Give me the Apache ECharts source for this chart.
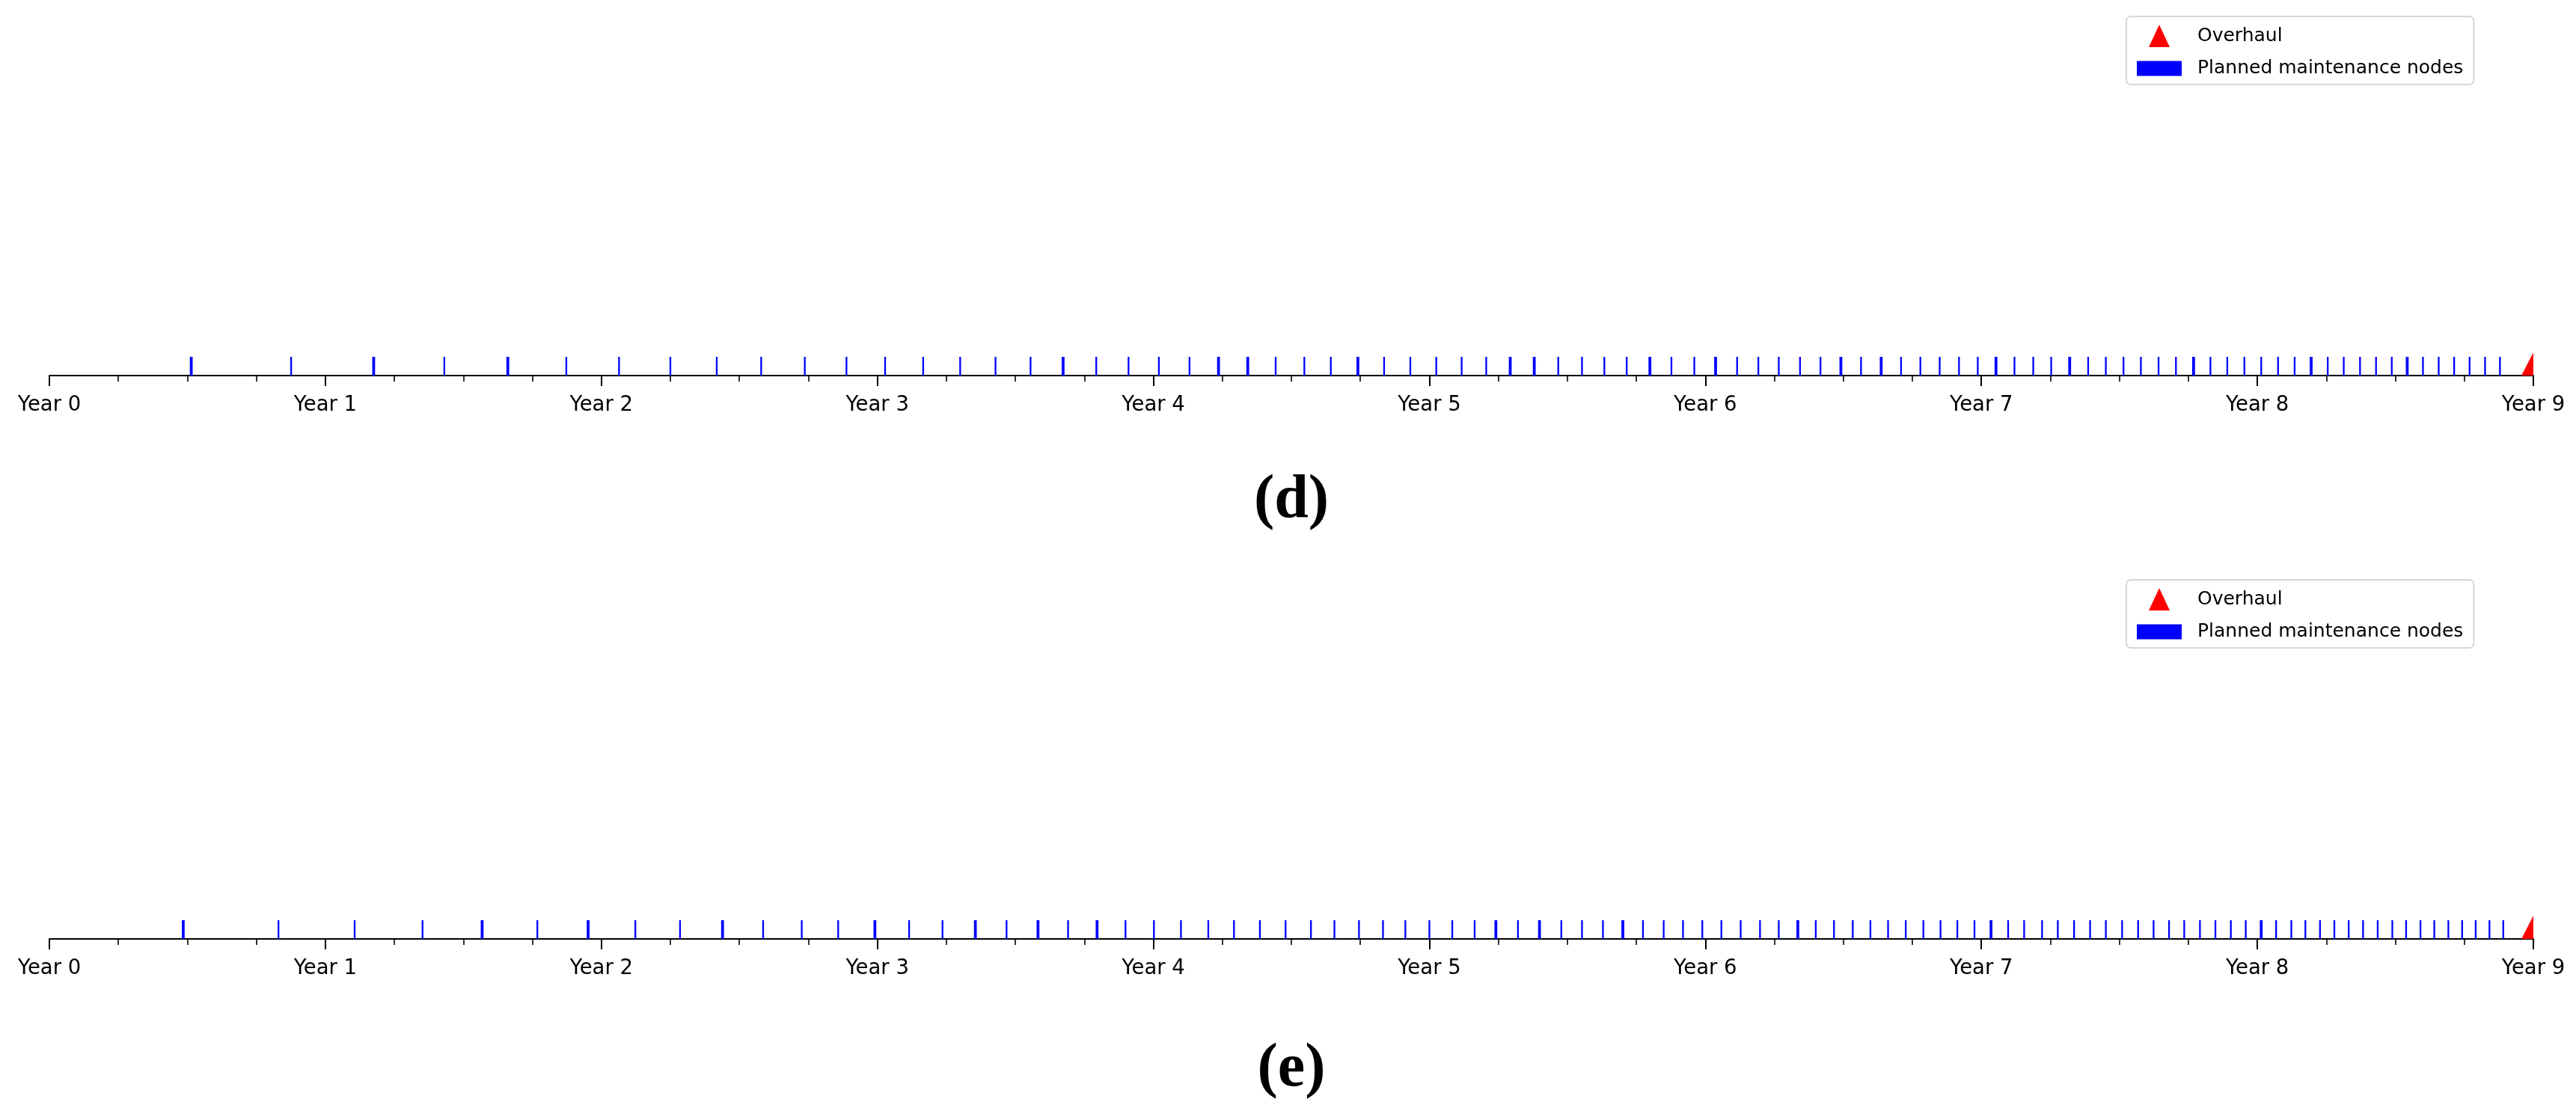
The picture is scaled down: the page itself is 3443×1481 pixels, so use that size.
<!DOCTYPE html>
<html>
<head>
<meta charset="utf-8">
<title>Maintenance nodes</title>
<script src="https://cdn.jsdelivr.net/npm/echarts@6/dist/echarts.min.js"></script>
<style>
    html, body { margin: 0; padding: 0; background: #fff; }
    #chart { width: 3443px; height: 1481px; }
</style>
</head>
<body>
<div id="chart"></div>
<script>
// years shown on the axis
var yearTicks = [0, 1, 2, 3, 4, 5, 6, 7, 8, 9];

// (d) planned maintenance nodes, in years (coinciding nodes appear as a close pair)
var nodesD = [
    0.512, 0.516, 0.876, 1.173, 1.177, 1.431, 1.659, 1.663, 1.873, 2.064, 2.250,
    2.418, 2.579, 2.737, 2.888, 3.028, 3.166, 3.300, 3.428, 3.555, 3.671, 3.675,
    3.793, 3.910, 4.020, 4.131, 4.234, 4.238, 4.340, 4.344, 4.443, 4.547, 4.643,
    4.739, 4.743, 4.836, 4.931, 5.025, 5.117, 5.206, 5.291, 5.295, 5.378, 5.382,
    5.467, 5.553, 5.634, 5.715, 5.797, 5.801, 5.877, 5.960, 6.035, 6.039, 6.115,
    6.192, 6.266, 6.343, 6.417, 6.489, 6.493, 6.564, 6.635, 6.639, 6.709, 6.779,
    6.849, 6.919, 6.987, 7.051, 7.055, 7.120, 7.188, 7.253, 7.318, 7.322, 7.387,
    7.451, 7.515, 7.578, 7.642, 7.705, 7.767, 7.771, 7.830, 7.891, 7.953, 8.014,
    8.075, 8.135, 8.193, 8.197, 8.255, 8.313, 8.372, 8.430, 8.487, 8.541, 8.545,
    8.600, 8.657, 8.713, 8.769, 8.825, 8.879
];

// (e) planned maintenance nodes, in years
var nodesE = [
    0.483, 0.487, 0.830, 1.106, 1.352, 1.566, 1.570, 1.768, 1.950, 1.954, 2.123,
    2.285, 2.437, 2.441, 2.586, 2.726, 2.858, 2.989, 2.993, 3.115, 3.236, 3.353,
    3.357, 3.468, 3.580, 3.584, 3.691, 3.794, 3.798, 3.899, 4.002, 4.100, 4.199,
    4.292, 4.386, 4.479, 4.571, 4.656, 4.745, 4.832, 4.913, 5.000, 5.083, 5.164,
    5.239, 5.243, 5.321, 5.397, 5.401, 5.478, 5.553, 5.629, 5.699, 5.703, 5.774,
    5.849, 5.919, 5.989, 6.058, 6.128, 6.198, 6.266, 6.333, 6.337, 6.400, 6.466,
    6.534, 6.598, 6.662, 6.726, 6.790, 6.852, 6.913, 6.975, 7.033, 7.037, 7.097,
    7.155, 7.220, 7.277, 7.336, 7.394, 7.451, 7.510, 7.568, 7.624, 7.680, 7.735,
    7.792, 7.848, 7.904, 7.958, 8.012, 8.016, 8.068, 8.123, 8.174, 8.227, 8.279,
    8.331, 8.383, 8.436, 8.489, 8.539, 8.591, 8.641, 8.692, 8.742, 8.791, 8.841,
    8.891
];

// overhaul time, in years
var overhaulD = [9];
var overhaulE = [9];

var panelTitles = ['(d)', '(e)'];

var myChart = echarts.init(document.getElementById('chart'));

var textFont = 'DejaVu Sans';

var makeXAxis = function (gridIndex) {
    return {
        type: 'value',
        gridIndex: gridIndex,
        min: yearTicks[0],
        max: yearTicks[yearTicks.length - 1],
        interval: 1,
        axisLine: { show: true, onZero: false, lineStyle: { color: '#000', width: 2 } },
        axisTick: { show: true, length: 14, lineStyle: { color: '#000', width: 2 } },
        minorTick: { show: true, splitNumber: 4, length: 8, lineStyle: { color: '#000', width: 1.6 } },
        splitLine: { show: false },
        axisLabel: {
            margin: 26,
            fontSize: 27.5,
            fontFamily: textFont,
            color: '#000',
            formatter: function (v) { return 'Year ' + v; }
        }
    };
};

var makeYAxis = function (gridIndex) {
    return { type: 'value', gridIndex: gridIndex, min: 0, max: 1, show: false };
};

var toPoints = function (arr) {
    var out = [];
    for (var i = 0; i < arr.length; i++) {
        out.push([arr[i], 0]);
    }
    return out;
};

var makeLegend = function (top) {
    return {
        orient: 'vertical',
        left: 2842,
        top: top,
        padding: [11, 14, 9, 14],
        itemGap: 16,
        itemWidth: 60,
        itemHeight: 30,
        backgroundColor: '#fff',
        borderColor: '#cccccc',
        borderWidth: 1.5,
        borderRadius: 6,
        textStyle: { fontSize: 25, fontFamily: textFont, color: '#000', padding: [0, 0, 0, 16] },
        data: [
            { name: 'Overhaul', icon: 'path://M0,30L14,0L28,30Z', itemStyle: { opacity: 1 } },
            { name: 'Planned maintenance nodes', icon: 'path://M0,0L60,0L60,20L0,20Z', itemStyle: { opacity: 1 } }
        ]
    };
};

var series = [];
var nodeSets = [nodesD, nodesE];
var overhaulSets = [overhaulD, overhaulE];
for (var g = 0; g < 2; g++) {
    series.push({
        name: 'Planned maintenance nodes',
        type: 'scatter',
        xAxisIndex: g,
        yAxisIndex: g,
        symbol: 'rect',
        symbolSize: [2.3, 25],
        symbolOffset: [0, -12.5],
        itemStyle: { color: '#0000ff', opacity: 1 },
        silent: true,
        animation: false,
        data: toPoints(nodeSets[g])
    });
    // the marker sits on the right end of the axis, only its left half shows
    series.push({
        name: 'Overhaul',
        type: 'scatter',
        xAxisIndex: g,
        yAxisIndex: g,
        symbol: 'path://M0,31L16,0L16,31Z',
        symbolSize: [16, 31],
        symbolOffset: [-8, -15.5],
        itemStyle: { color: '#ff0000', opacity: 1 },
        silent: true,
        animation: false,
        data: toPoints(overhaulSets[g])
    });
}

var option = {
    backgroundColor: '#fff',
    animation: false,
    grid: [
        { left: 66, right: 57, top: 402, height: 100 },
        { left: 66, right: 57, top: 1155, height: 100 }
    ],
    xAxis: [makeXAxis(0), makeXAxis(1)],
    yAxis: [makeYAxis(0), makeYAxis(1)],
    legend: [makeLegend(22), makeLegend(775)],
    graphic: [
        {
            type: 'text', x: 1726, y: 670,
            style: { text: panelTitles[0], fontSize: 82, fontWeight: 'bold', fontFamily: 'Liberation Serif', fill: '#000', textAlign: 'center', textVerticalAlign: 'middle' }
        },
        {
            type: 'text', x: 1726, y: 1430,
            style: { text: panelTitles[1], fontSize: 82, fontWeight: 'bold', fontFamily: 'Liberation Serif', fill: '#000', textAlign: 'center', textVerticalAlign: 'middle' }
        }
    ],
    series: series
};
myChart.setOption(option);
</script>
</body>
</html>
